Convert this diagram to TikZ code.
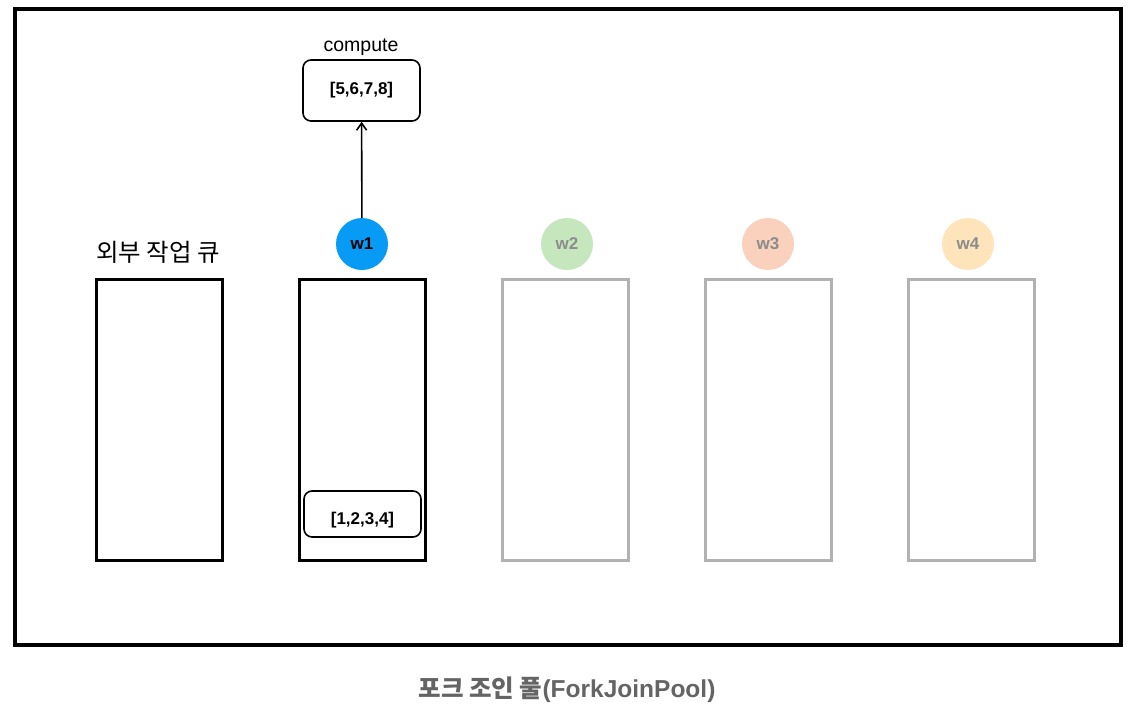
\documentclass[tikz,border=0pt]{standalone}
\usepackage{fontspec}
\setmainfont{Liberation Sans}
\newfontfamily\kr{Noto Sans CJK KR}
\usetikzlibrary{arrows.meta}

\definecolor{wblue}{RGB}{8,155,245}
\definecolor{wgreen}{RGB}{198,230,190}
\definecolor{wred}{RGB}{249,209,188}
\definecolor{wyellow}{RGB}{253,228,186}
\definecolor{idle}{RGB}{178,178,178}
\definecolor{idletext}{RGB}{140,140,140}
\definecolor{captext}{RGB}{100,100,100}

\tikzset{
  queue/.style={draw, line width=3pt, minimum width=126pt, minimum height=281pt, inner sep=0pt},
  idlequeue/.style={queue, draw=idle},
  worker/.style={circle, minimum size=52pt, inner sep=0pt, font=\bfseries\fontsize{17}{20}\selectfont},
  task/.style={draw, line width=1.6pt, rounded corners=8pt, inner sep=0pt, font=\bfseries\fontsize{17}{20}\selectfont}
}

\begin{document}
\begin{tikzpicture}[x=1pt,y=1pt,yscale=-1,xscale=1]
\useasboundingbox (0,0) rectangle (1135,715);

%Shape: Frame
\draw [line width=3.5pt] (15,9) rectangle (1121,645) ;

%Shape: Queues
\node [queue] (ext) at (159,419.5) {};
\node [queue] (q1) at (362.5,419.5) {};
\node [idlequeue] (q2) at (565.5,419.5) {};
\node [idlequeue] (q3) at (768,419.5) {};
\node [idlequeue] (q4) at (971,419.5) {};

%Text: queue label
\node [font=\kr\fontsize{24.5}{28}\selectfont] (extlabel) at (158,252) {외부 작업 큐};

%Shape: Workers
\node [worker, fill=wblue] (w1) at (362,244) {w1};
\node [worker, fill=wgreen, text=idletext] (w2) at (567,244) {w2};
\node [worker, fill=wred, text=idletext] (w3) at (768,244) {w3};
\node [worker, fill=wyellow, text=idletext] (w4) at (968,244) {w4};

%Shape: Tasks
\node [task, minimum width=117pt, minimum height=61pt] (forked) at (361.5,90.5) {[5,6,7,8]};
\node [font=\fontsize{19.5}{23}\selectfont] (forklabel) at (361,47) {compute};
\node [task, minimum width=117pt, minimum height=46pt, text height=24pt] (held) at (362.5,514) {[1,2,3,4]};

%Straight Lines: fork
\draw [line width=1.6pt, -{Straight Barb[length=7pt,width=10pt]}] (w1) -- (forked) ;

%Text: caption
\node [text=captext, font=\bfseries\fontsize{24.5}{28}\selectfont] (caption) at (567,690) {{\kr 포크 조인 풀}(ForkJoinPool)};

\end{tikzpicture}
\end{document}
